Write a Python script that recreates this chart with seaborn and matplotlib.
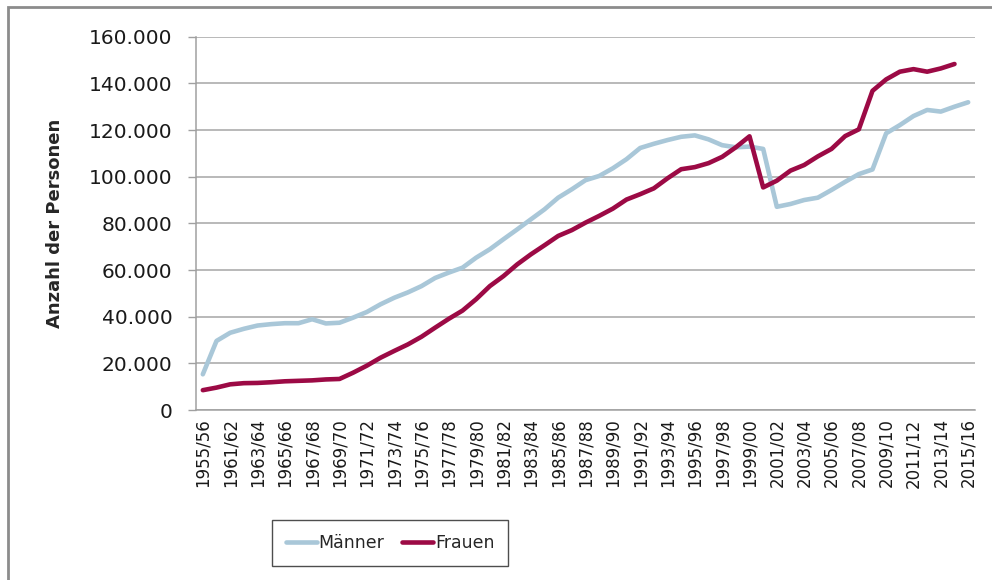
import numpy as np
import pandas as pd
import seaborn as sns
import matplotlib
matplotlib.use("Agg")
import matplotlib.pyplot as plt
from matplotlib.patches import Rectangle
from matplotlib.ticker import FuncFormatter


semester = ["1955/56"] + [f"{y}/{str(y + 1)[-2:]}" for y in range(1960, 2016)]

maenner = [15.3, 29.6, 33.1, 34.8, 36.2, 36.8, 37.2, 37.2, 38.9, 37.1,
           37.4, 39.6, 42.0, 45.3, 48.1, 50.4, 53.1, 56.6, 58.9, 61.0,
           65.3, 68.9, 73.2, 77.4, 81.7, 86.0, 91.0, 94.6, 98.5, 100.3,
           103.6, 107.5, 112.3, 114.1, 115.7, 117.1, 117.7, 116.0, 113.5, 112.6,
           112.9, 111.9, 87.1, 88.3, 90.0, 91.0, 94.3, 97.8, 101.1, 103.1,
           118.6, 122.1, 126.0, 128.6, 127.9, 130.0, 131.9]

frauen = [8.5, 9.6, 11.0, 11.5, 11.6, 11.9, 12.3, 12.5, 12.7, 13.1,
          13.3, 16.0, 19.0, 22.4, 25.3, 28.1, 31.4, 35.3, 39.1, 42.6,
          47.5, 53.1, 57.4, 62.4, 66.7, 70.6, 74.6, 77.1, 80.3, 83.2,
          86.3, 90.2, 92.5, 95.0, 99.3, 103.2, 104.1, 105.8, 108.5, 112.6,
          117.3, 95.4, 98.3, 102.6, 105.0, 108.7, 111.9, 117.4, 120.3, 136.8,
          141.7, 145.0, 146.1, 145.0, 146.4, 148.3, np.nan]

farben = {"Männer": "#a9c7d8", "Frauen": "#9c0a45"}

df = pd.DataFrame({
    "Semester": semester * 2,
    "Anzahl": [v * 1000 for v in maenner + frauen],
    "Geschlecht": ["Männer"] * len(semester) + ["Frauen"] * len(semester),
})

sns.set_style("white")
plt.rcParams["font.family"] = ["DejaVu Sans"]

fig = plt.figure(figsize=(9.92, 5.8), dpi=100)
ax = fig.add_axes([196 / 992, 1 - 410 / 580, (975 - 196) / 992, (410 - 36.7) / 580])

sns.lineplot(data=df, x="Semester", y="Anzahl", hue="Geschlecht",
             palette=farben, linewidth=3.3, sort=False, ax=ax)

ax.set_xlim(-0.5, len(semester) - 0.5)
ax.set_ylim(0, 160000)
ax.set_yticks(range(0, 160001, 20000))
ax.yaxis.set_major_formatter(FuncFormatter(lambda v, p: f"{int(v):,}".replace(",", ".")))
ax.grid(axis="y", color="#a6a6a6", linewidth=1.1)
ax.set_axisbelow(True)

ax.set_xticks(range(0, len(semester), 2))
ax.set_xticklabels(semester[::2], rotation=90, fontsize=12, color="#1a1a1a")
ax.set_xticks(np.arange(-0.5, len(semester), 1), minor=True)
ax.tick_params(axis="x", which="major", length=0, pad=6)
ax.tick_params(axis="x", which="minor", length=5, color="#a0a0a0", width=1)
ax.tick_params(axis="y", length=6, color="#a0a0a0", width=1, labelsize=14.5,
               labelcolor="#1a1a1a", pad=11, left=True)

for s in ["top", "right"]:
    ax.spines[s].set_visible(False)
for s in ["left", "bottom"]:
    ax.spines[s].set_color("#a0a0a0")
    ax.spines[s].set_linewidth(1.1)

ax.set_xlabel("")
ax.set_ylabel("Anzahl der Personen", fontsize=13, fontweight="bold", labelpad=18)

handles, labels = ax.get_legend_handles_labels()
ax.get_legend().remove()
leg = fig.legend(handles, labels, loc="center", bbox_to_anchor=(390 / 992, 1 - 543 / 580),
                 ncol=2, frameon=True, fancybox=False, edgecolor="#222222",
                 fontsize=12.5, handlelength=1.8, handletextpad=0.1, columnspacing=1.0,
                 borderpad=0.8)
leg.get_frame().set_linewidth(1.0)

fig.patches.append(Rectangle((8 / 992, -0.05), 1.0, 1 - 7 / 580 + 0.05,
                             transform=fig.transFigure, fill=False,
                             edgecolor="#8c8c8c", linewidth=2))

fig.savefig("out.png", dpi=100)
